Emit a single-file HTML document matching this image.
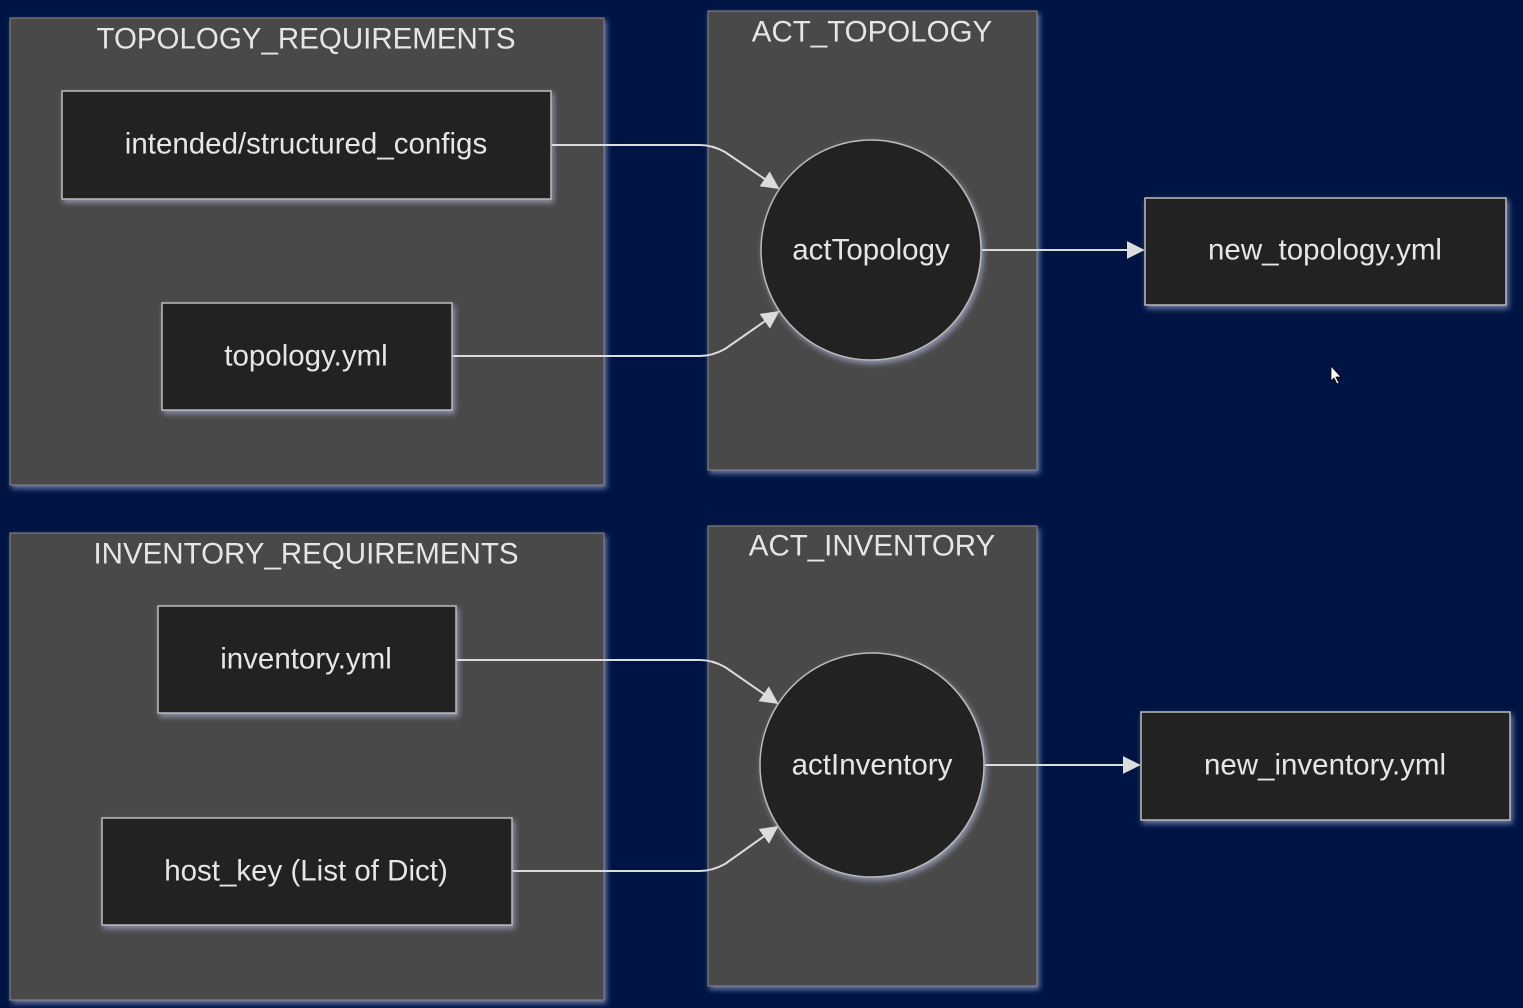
<!DOCTYPE html>
<html><head><meta charset="utf-8"><style>
html,body{margin:0;padding:0;background:#001443;}
svg{display:block;}
text{font-family:"Liberation Sans",sans-serif;fill:#e6e6e6;text-anchor:middle;dominant-baseline:central;}
</style></head><body>
<svg width="1523" height="1008" viewBox="0 0 1523 1008" xmlns="http://www.w3.org/2000/svg">
<defs>
<filter id="g" x="-10%" y="-10%" width="120%" height="120%"><feDropShadow dx="2" dy="3" stdDeviation="3" flood-color="#c8d0ff" flood-opacity="0.55"/></filter>
<marker id="b" viewBox="0 0 10 10" refX="9" refY="5" markerWidth="18" markerHeight="18" orient="auto" markerUnits="userSpaceOnUse"><path d="M0,0L10,5L0,10z" fill="#dcdcdc"/></marker>
</defs>
<g fill="#4a4a4a" stroke="#888" stroke-width="1" filter="url(#g)">
<rect x="10" y="18" width="594" height="467"/>
<rect x="708" y="11" width="329" height="459"/>
<rect x="10" y="533" width="594" height="467"/>
<rect x="708" y="526" width="329" height="460"/>
</g>
<g font-size="29.5">
<text x="306" y="39">TOPOLOGY_REQUIREMENTS</text>
<text x="872" y="32">ACT_TOPOLOGY</text>
<text x="306" y="554">INVENTORY_REQUIREMENTS</text>
<text x="872" y="546">ACT_INVENTORY</text>
</g>
<g fill="none" stroke="#dcdcdc" stroke-width="2">
<path d="M551,145 H700 Q712,145 725,152 L778,188" marker-end="url(#b)"/>
<path d="M452,356 H700 Q712,356 725,349 L778,312" marker-end="url(#b)"/>
<path d="M982,250 H1143" marker-end="url(#b)"/>
<path d="M456,660 H700 Q712,660 725,667 L777,703" marker-end="url(#b)"/>
<path d="M512,871 H700 Q712,871 725,864 L777,827" marker-end="url(#b)"/>
<path d="M985,765 H1139" marker-end="url(#b)"/>
</g>
<g fill="#222" stroke="#bbb" stroke-width="1.5" filter="url(#g)">
<rect x="62" y="91" width="489" height="108"/>
<rect x="162" y="303" width="290" height="107"/>
<circle cx="871" cy="250" r="110"/>
<rect x="1145" y="198" width="361" height="107"/>
<rect x="158" y="606" width="298" height="107"/>
<rect x="102" y="818" width="410" height="107"/>
<circle cx="872" cy="765" r="112"/>
<rect x="1141" y="712" width="369" height="108"/>
</g>
<g font-size="29.5">
<text x="306" y="144">intended/structured_configs</text>
<text x="306" y="356">topology.yml</text>
<text x="871" y="250">actTopology</text>
<text x="1325" y="250">new_topology.yml</text>
<text x="306" y="659">inventory.yml</text>
<text x="306" y="871">host_key (List of Dict)</text>
<text x="872" y="765">actInventory</text>
<text x="1325" y="765">new_inventory.yml</text>
</g>
<path d="M1331,366 L1331,381 L1334,378 L1337,384 L1339,383 L1336,377 L1341,377 Z" fill="#fff" stroke="#000" stroke-width="0.8"/>
</svg>
</body></html>
